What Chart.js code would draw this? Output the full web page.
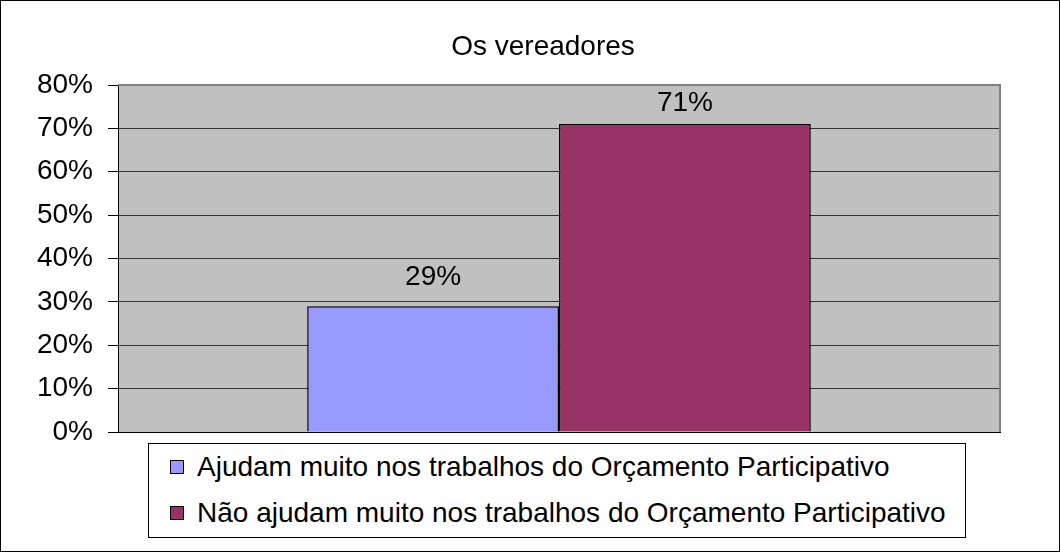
<!DOCTYPE html>
<html><head><meta charset="utf-8">
<script src="https://cdn.jsdelivr.net/npm/chart.js@4"></script>
<style>
html,body{margin:0;padding:0;background:#fff;}
#wrap{position:relative;width:1060px;height:552px;overflow:hidden;}
canvas{display:block;}
#legend{position:absolute;left:148px;top:443px;width:818px;height:95px;box-sizing:border-box;border:1px solid #000;background:#fff;font-family:'Liberation Sans',Arial,sans-serif;font-size:28px;color:#000;}
.item{position:absolute;left:21px;height:30px;display:flex;align-items:center;white-space:nowrap;}
.sw{width:12px;height:12px;border:1px solid #000;margin-right:13px;flex:none;}
</style></head>
<body>
<div id="wrap"><canvas id="c" width="1060" height="552"></canvas><div id="legend"></div></div>
<script>
const categories = ['Os vereadores'];
const titleText = 'Os vereadores';
const seriesLabels = ['Ajudam muito nos trabalhos do Orçamento Participativo', 'Não ajudam muito nos trabalhos do Orçamento Participativo'];
const seriesValues = [[0.29], [0.71]];
const seriesColors = ['#9999FF', '#993366'];
const yMin = 0, yMax = 0.8, yStep = 0.1;

const FONT = "'Liberation Sans', Arial, sans-serif";

const decor = {
  id: 'decor',
  beforeDraw(chart) {
    const {ctx, chartArea: a} = chart;
    ctx.save();
    ctx.fillStyle = '#fff';
    ctx.fillRect(0, 0, chart.width, chart.height);
    ctx.fillStyle = '#C0C0C0';
    ctx.fillRect(a.left, a.top, a.right - a.left, a.bottom - a.top);
    ctx.restore();
  },
  afterDatasetsDraw(chart) {
    const {ctx, chartArea: a} = chart;
    ctx.save();
    ctx.strokeStyle = '#808080';
    ctx.lineWidth = 2;
    ctx.beginPath();
    ctx.moveTo(a.left, a.top);
    ctx.lineTo(a.right, a.top);
    ctx.lineTo(a.right, a.bottom);
    ctx.stroke();
    ctx.fillStyle = '#000';
    ctx.font = '28px ' + FONT;
    ctx.textAlign = 'center';
    ctx.textBaseline = 'middle';
    chart.data.datasets.forEach((ds, i) => {
      chart.getDatasetMeta(i).data.forEach((el, j) => {
        let y = el.y - 29;
        if (y < a.top + 18) y = a.top + 18;
        ctx.fillText(Math.round(ds.data[j] * 100) + '%', el.x, y);
      });
    });
    ctx.fillText(titleText, (a.left + a.right) / 2 - 16, 47);
    ctx.strokeStyle = '#000';
    ctx.lineWidth = 1;
    ctx.strokeRect(0.5, 0.5, chart.width - 1, chart.height - 1);
    ctx.restore();
  }
};

const chart = new Chart(document.getElementById('c'), {
  type: 'bar',
  data: {
    labels: categories,
    datasets: seriesLabels.map((l, i) => ({
      label: l,
      data: seriesValues[i],
      backgroundColor: seriesColors[i],
      borderColor: '#000',
      borderWidth: 1.5,
      categoryPercentage: 0.571,
      barPercentage: 1
    }))
  },
  options: {
    responsive: false,
    animation: false,
    devicePixelRatio: 1,
    layout: {padding: {top: 85, right: 60, bottom: 112, left: 0}},
    plugins: {legend: {display: false}, title: {display: false}, tooltip: {enabled: false}},
    scales: {
      x: {
        display: true,
        grid: {display: false},
        ticks: {display: false},
        border: {display: true, color: '#000', width: 1}
      },
      y: {
        min: yMin, max: yMax,
        afterFit(s) { s.width = 118; },
        ticks: {
          stepSize: yStep,
          padding: 15,
          color: '#000',
          font: {family: FONT, size: 28},
          callback: v => Math.round(v * 100) + '%'
        },
        grid: {color: '#333', lineWidth: 1, tickLength: 10, tickColor: '#000'},
        border: {display: true, color: '#000', width: 1}
      }
    }
  },
  plugins: [decor]
});

const leg = document.getElementById('legend');
seriesLabels.forEach((l, i) => {
  const it = document.createElement('div');
  it.className = 'item';
  it.style.top = (8 + i * 46) + 'px';
  const sw = document.createElement('span');
  sw.className = 'sw';
  sw.style.background = seriesColors[i];
  const tx = document.createElement('span');
  tx.textContent = l;
  it.appendChild(sw); it.appendChild(tx);
  leg.appendChild(it);
});
</script>
</body></html>
